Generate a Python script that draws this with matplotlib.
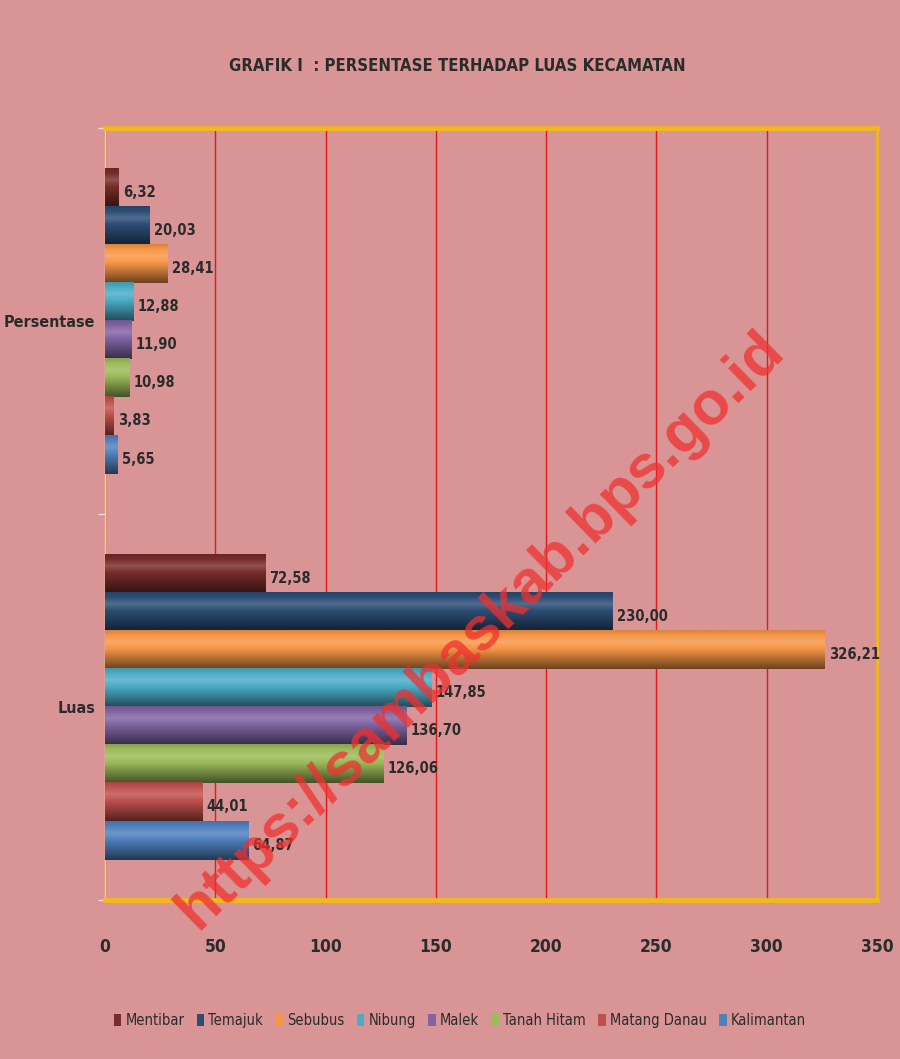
import numpy as np
import matplotlib.pyplot as plt
from matplotlib.colors import to_rgb

categories = ["Luas", "Persentase"]
series = ["Mentibar", "Temajuk", "Sebubus", "Nibung", "Malek",
          "Tanah Hitam", "Matang Danau", "Kalimantan"]
luas = [72.58, 230.00, 326.21, 147.85, 136.70, 126.06, 44.01, 64.87]
persentase = [6.32, 20.03, 28.41, 12.88, 11.90, 10.98, 3.83, 5.65]
colors = ["#772C2A", "#2C4D75", "#F79646", "#4BACC6", "#8064A2",
          "#9BBB59", "#C0504D", "#4F81BD"]
xticks = [0, 50, 100, 150, 200, 250, 300, 350]

BG = "#D99595"
INK = "#2B2B2B"
plt.rcParams["font.family"] = ["DejaVu Sans"]
plt.rcParams["font.stretch"] = "condensed"

fig = plt.figure(figsize=(9, 10.59), dpi=100, facecolor=BG)
ax = fig.add_axes([0.1167, 0.1501, 0.8577, 0.729])
ax.set_facecolor(BG)


def shade(color):
    # vertical gradient like the Excel bevel: light band near top, dark bottom
    base = np.array(to_rgb(color))
    rows = []
    for t in np.linspace(0, 1, 40):
        if t < 0.3:
            f = 0.88 + 1.0 * t
        else:
            f = 1.18 - 1.05 * (t - 0.3)
        c = base * f if f <= 1 else base + (1 - base) * (f - 1)
        rows.append(np.clip(c, 0, 1))
    return np.array(rows)[:, None, :]


h = 0.79 / len(series)
for i, (name, col) in enumerate(zip(series, colors)):
    off = (3.5 - i) * h
    vals = [luas[i], persentase[i]]
    bars = ax.barh([0 + off, 1 + off], vals, height=h, color=col,
                   label=name, zorder=3)
    for b, v in zip(bars, vals):
        x0, y0 = b.get_x(), b.get_y()
        ax.imshow(shade(col), extent=(x0, x0 + b.get_width(), y0, y0 + h),
                  aspect="auto", zorder=3.5, interpolation="bicubic")
        ax.text(v + 2, y0 + h * 0.38, f"{v:.2f}".replace(".", ","),
                va="center", ha="left", fontsize=10.5, fontweight="bold",
                color=INK, zorder=5)

ax.set_xlim(0, 350)
ax.set_ylim(-0.5, 1.5)
ax.set_xticks(xticks)
ax.set_xticklabels([str(t) for t in xticks], fontsize=12.5,
                   fontweight="bold", color=INK)
ax.tick_params(axis="x", length=0, pad=27)
ax.set_yticks([0, 1])
ax.set_yticklabels(categories, fontsize=11.5, fontweight="bold", color=INK)
ax.set_yticks([-0.5, 0.5, 1.5], minor=True)
ax.tick_params(axis="y", which="major", length=0, pad=7)
ax.tick_params(axis="y", which="minor", length=5, color="#F2E0E0", width=1)

ax.grid(axis="x", color="#E31A1C", linewidth=1, zorder=1)
for s in ["top", "bottom"]:
    ax.spines[s].set_color("#F2B81F")
    ax.spines[s].set_linewidth(3.5)
ax.spines["right"].set_color("#F2B81F")
ax.spines["right"].set_linewidth(2)
ax.spines["left"].set_color("#F4D27A")
ax.spines["left"].set_linewidth(1)

fig.text(0.508, 0.938, "GRAFIK I  : PERSENTASE TERHADAP LUAS KECAMATAN",
         ha="center", va="center", fontsize=12, fontweight="heavy",
         color=INK)

fig.legend(loc="center", bbox_to_anchor=(0.511, 0.036), ncol=8, frameon=False,
           handlelength=0.5, handleheight=0.9, handletextpad=0.3,
           columnspacing=0.85, prop={"size": 10.5}, labelcolor=INK)

fig.text(0.535, 0.405, "https://sambaskab.bps.go.id", rotation=44.5,
         ha="center", va="center", fontsize=44, fontweight="bold",
         family=["Liberation Sans", "DejaVu Sans"], stretch="normal",
         color="#F03030", alpha=0.75, zorder=10)

fig.savefig("out.png", dpi=100, facecolor=BG)
